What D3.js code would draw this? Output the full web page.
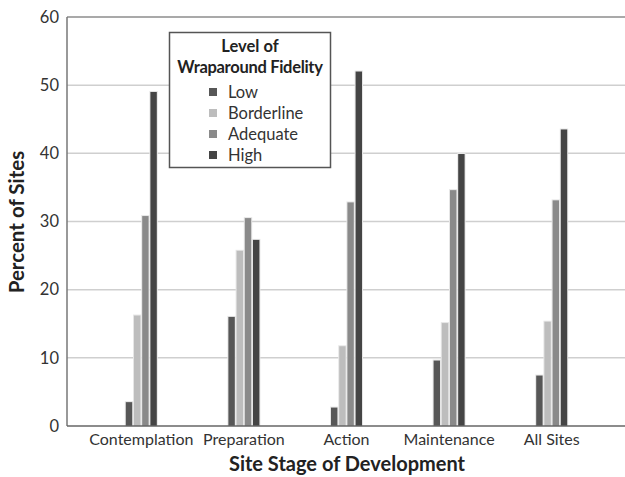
<!DOCTYPE html>
<html><head><meta charset="utf-8">
<script src="https://cdn.jsdelivr.net/npm/d3@7"></script>
<style>body{margin:0;background:#fff}svg{display:block}text{font-family:Lato,"Open Sans",sans-serif}</style>
</head><body><svg id="c" width="625" height="477"></svg>
<script>
const categories = ["Contemplation","Preparation","Action","Maintenance","All Sites"];
const seriesNames = ["Low","Borderline","Adequate","High"];
const low = [3.5, 16, 2.7, 9.6, 7.4];
const borderline = [16.2, 25.7, 11.7, 15.1, 15.3];
const adequate = [30.8, 30.5, 32.8, 34.6, 33.1];
const high = [49, 27.3, 52, 39.9, 43.5];
const yTicks = [0,10,20,30,40,50,60];
const colors = ["#575757","#bdbdbd","#8a8a8a","#454545"];
const series = [low, borderline, adequate, high];

(function(){
const svg = d3.select("#c");
const pLeft = 67, pRight = 625, pTop = 17, pBottom = 426;
const y = d3.scaleLinear().domain([0,60]).range([pBottom, pTop]);
const x = d3.scaleBand().domain(categories).range([90, 603]);
const xs = d3.scaleBand().domain(seriesNames).range([-15.5, 15.5]).paddingInner(0.22);

svg.append("g").selectAll("line").data(yTicks.filter(d=>d>0)).join("line")
  .attr("x1", pLeft).attr("x2", pRight).attr("y1", d=>y(d)).attr("y2", d=>y(d))
  .attr("stroke", d=> d===60 ? "#8c8c8c" : "#cfcfcf").attr("stroke-width", 1.5);

const g = svg.append("g");
categories.forEach((c,i)=>{
  series.forEach((s,j)=>{
    const bx = x(c) + x.bandwidth()/2 + xs(seriesNames[j]);
    g.append("rect").attr("x", bx-1).attr("y", y(s[i])-1).attr("width", xs.bandwidth()+2).attr("height", pBottom - y(s[i])+1)
      .attr("fill", "#e6e6e6");
    g.append("rect").attr("x", bx).attr("y", y(s[i])).attr("width", xs.bandwidth()).attr("height", pBottom - y(s[i]))
      .attr("fill", colors[j]);
  });
});

svg.append("line").attr("x1", pLeft).attr("x2", pLeft).attr("y1", pTop).attr("y2", pBottom).attr("stroke","#777").attr("stroke-width",1.5);
svg.append("line").attr("x1", pLeft).attr("x2", pRight).attr("y1", pBottom).attr("y2", pBottom).attr("stroke","#666").attr("stroke-width",1.5);

const ya = svg.append("g").attr("transform", `translate(${pLeft},0)`).call(d3.axisLeft(y).tickValues(yTicks).tickSize(0).tickPadding(8));
ya.select(".domain").remove();
ya.selectAll("text").attr("font-size", 16.5).attr("fill", "#333").attr("font-family","Lato,sans-serif");

const xa = svg.append("g").attr("transform", `translate(0,${pBottom})`).call(d3.axisBottom(x).tickSize(0).tickPadding(8));
xa.select(".domain").remove();
xa.selectAll("text").attr("font-size", 16).attr("fill", "#333").attr("font-family","Lato,sans-serif");

svg.append("text").attr("transform","translate(24,222) rotate(-90)").attr("text-anchor","middle")
  .attr("font-size",20.5).attr("font-weight","bold").attr("fill","#222").text("Percent of Sites");
svg.append("text").attr("x",347).attr("y",471).attr("text-anchor","middle")
  .attr("font-size",20).attr("font-weight","bold").attr("fill","#222").text("Site Stage of Development");

const lg = svg.append("g");
lg.append("rect").attr("x",169.5).attr("y",32.5).attr("width",161).attr("height",135).attr("fill","#fff").attr("stroke","#555").attr("stroke-width",1.5);
lg.append("text").attr("x",250).attr("y",52).attr("text-anchor","middle").attr("font-size",16.5).attr("font-weight","bold").attr("fill","#222").text("Level of");
lg.append("text").attr("x",250).attr("y",73).attr("text-anchor","middle").attr("font-size",16.5).attr("font-weight","bold").attr("letter-spacing",-0.3).attr("fill","#222").text("Wraparound Fidelity");
seriesNames.forEach((n,j)=>{
  const cy = 92 + j*21;
  lg.append("rect").attr("x",209).attr("y",cy-4).attr("width",8).attr("height",8).attr("fill",colors[j]);
  lg.append("text").attr("x",228).attr("y",cy+6).attr("font-size",16.5).attr("fill","#333").text(n);
});
})();
</script></body></html>
